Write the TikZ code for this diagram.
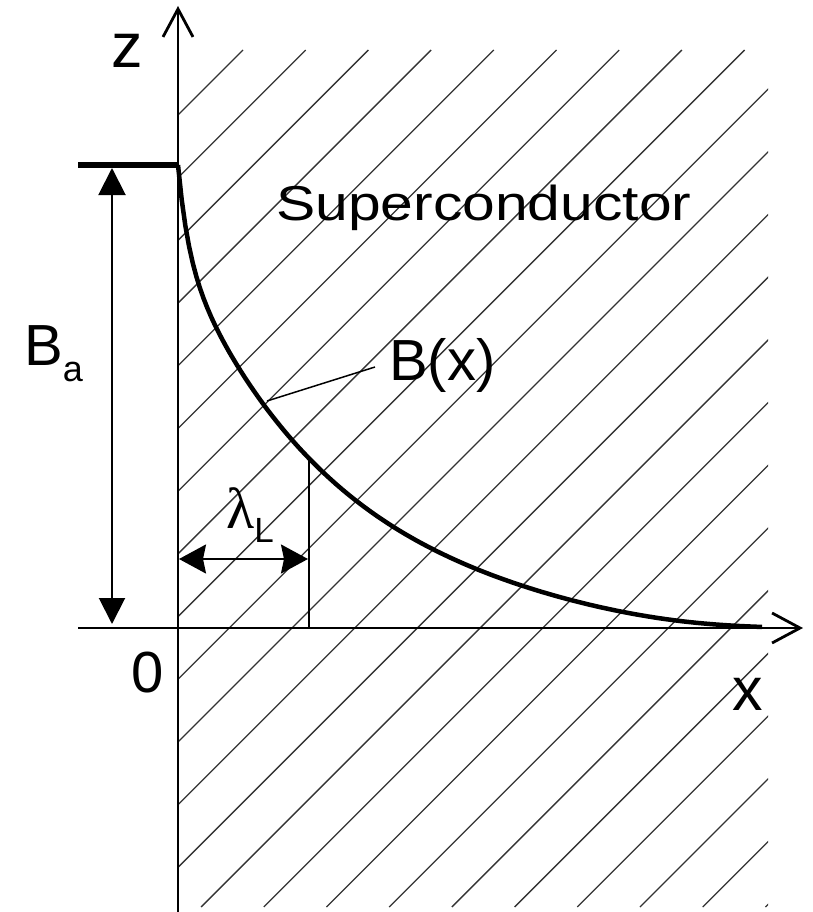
\documentclass[tikz,border=0pt]{standalone}
\usepackage{fontspec}
\setmainfont{Liberation Sans}
\newfontfamily\serifgr{Liberation Serif}
\newfontfamily\widesans[FakeStretch=1.2]{Liberation Sans}
\usetikzlibrary{arrows.meta}
\begin{document}
\begin{tikzpicture}[x=1pt,y=-1pt,
  axis/.style={line width=2pt, -{Straight Barb[length=28pt,width=30pt,line width=2.8pt]}},
  hatch/.style={line width=1.3pt, black!80},
  dim/.style={line width=2pt},
  lbl/.style={inner sep=0pt, anchor=base west, font=\fontsize{58}{60}\selectfont}]
\useasboundingbox (0,0) rectangle (813,912);
% hatching
\begin{scope}
  \clip (178,50) rectangle (768,907);
  \foreach \k in {0,...,23}{
    \pgfmathsetmacro\c{293+62.7*\k}
    \draw[hatch] (\c-907,907) -- (\c-50,50);
  }
\end{scope}
% axes
\coordinate (zb) at (178,912);
\coordinate (zt) at (178,6);
\coordinate (xl) at (78,628);
\coordinate (xr) at (803,628);
\draw[axis] (zb) -- (zt);
\draw[axis] (xl) -- (xr);
% applied field level
\coordinate (bal) at (78,165);
\coordinate (ba0) at (178,165);
\draw[line width=5.5pt] (bal) -- (ba0);
% B(x) curve
\draw[line width=4.5pt, line join=round] plot[domain=0:584, samples=160]
  ({178+\x}, {628-463*exp(-(0.21*(1-exp(-\x/12)) + \x/165 + 1.8*(\x/560)^6))});
% Ba dimension arrow
\coordinate (bat) at (112,168);
\coordinate (bab) at (112,624);
\draw[dim, {Triangle[length=27pt,width=27pt]}-{Triangle[length=26pt,width=26pt]}] (bat) -- (bab);
% lambda marker
\coordinate (lamtop) at (309,456);
\coordinate (lambot) at (309,628);
\draw[dim] (lamtop) -- (lambot);
\coordinate (laml) at (179,559);
\coordinate (lamr) at (308,559);
\draw[dim, {Stealth[length=27pt,width=29pt,inset=3pt]}-{Stealth[length=27pt,width=29pt,inset=3pt]}] (laml) -- (lamr);
% leader line
\coordinate (lead) at (267,401);
\coordinate (leadend) at (375,367);
\draw[line width=1.5pt] (lead) -- (leadend);
% labels
\node[lbl, font=\fontsize{63}{63}\selectfont] (zlab) at (111,68) {z};
\node[lbl, font=\widesans\fontsize{49}{50}\selectfont] (sc) at (276,220) {Superconductor};
\node[lbl] (bx) at (389,380) {B(x)};
\node[lbl] (balab) at (24,365) {B{\fontsize{36}{36}\selectfont\raisebox{-16pt}{a}}};
\node[lbl] (zero) at (131,692) {0};
\node[lbl, font=\fontsize{61}{61}\selectfont] (xlab) at (732,710) {x};
\node[lbl] (lam) at (226,528) {{\serifgr λ}{\fontsize{35}{35}\selectfont\raisebox{-14pt}{L}}};
\end{tikzpicture}
\end{document}
